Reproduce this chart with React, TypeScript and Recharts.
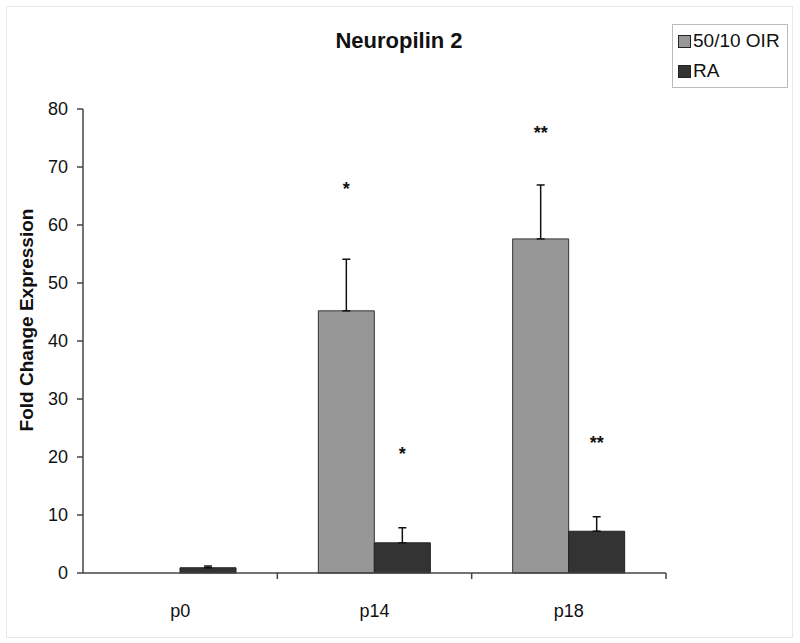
import React from 'react';
import {
	BarChart,
	Bar,
	XAxis,
	YAxis,
	ErrorBar,
	LabelList,
	Legend,
} from 'recharts';

const categories = ['p0', 'p14', 'p18'];
const oirValues = [0, 45.2, 57.6];
const oirErrors = [null, 8.9, 9.3];
const oirStars = ['', '*', '**'];
const oirStarLevels = [null, 66.4, 76];
const raValues = [0.9, 5.2, 7.2];
const raErrors = [0.3, 2.6, 2.5];
const raStars = ['', '*', '**'];
const raStarLevels = [null, 20.7, 22.6];
const yTicks = [0, 10, 20, 30, 40, 50, 60, 70, 80];

const data = categories.map((name, i) => ({
	name,
	oir: oirValues[i],
	oirErr: oirErrors[i] == null ? undefined : [0, oirErrors[i]],
	ra: raValues[i],
	raErr: [0, raErrors[i]],
}));

const W = 800;
const H = 643;
const X_AXIS_H = 30;
const Y_AXIS_W = 83;
const M = { top: 109, right: 134, bottom: 70 - X_AXIS_H, left: 0 };
const PLOT_BOTTOM = H - M.bottom - X_AXIS_H;
const BAND = (W - M.right - M.left - Y_AXIS_W) / categories.length;
const FONT = '"Liberation Sans", Arial, Helvetica, sans-serif';
const AXIS = '#444';

const XTick = (props: any) => {
	const { x, payload } = props;
	return (
		<g>
			<line
				x1={x + BAND / 2}
				x2={x + BAND / 2}
				y1={PLOT_BOTTOM}
				y2={PLOT_BOTTOM + 6}
				stroke={AXIS}
				strokeWidth={1.5}
			/>
			<text
				x={x}
				y={PLOT_BOTTOM + 44}
				textAnchor='middle'
				fontSize={18}
				fontFamily={FONT}
				fill='#111'
			>
				{payload.value}
			</text>
		</g>
	);
};

// star sits at a y value; bar height / bar value gives px per unit
const starLabel =
	(values: number[], stars: string[], levels: (number | null)[]) => (props: any) => {
		const { x, y, width, height, value } = props;
		const i = categories.indexOf(value);
		const level = levels[i];
		if (i < 0 || level == null || !stars[i] || !values[i]) return null;
		const base = y + height;
		const sy = base - (level * height) / values[i];
		return (
			<text
				x={x + width / 2}
				y={sy + 7}
				textAnchor='middle'
				fontSize={18}
				fontWeight='bold'
				fontFamily={FONT}
				fill='#111'
			>
				{stars[i]}
			</text>
		);
	};

const LegendBox = (props: any) => {
	const { payload } = props;
	return (
		<div
			style={{
				border: '1px solid #bbb',
				padding: '1px 4px 1px 5px',
				fontFamily: FONT,
				fontSize: 19,
				color: '#111',
				background: '#fff',
				whiteSpace: 'nowrap',
				width: 105,
			}}
		>
			{(payload || []).map((p: any) => (
				<div
					key={p.value}
					style={{ display: 'flex', alignItems: 'center', height: 30 }}
				>
					<span
						style={{
							display: 'inline-block',
							width: 11,
							height: 11,
							background: p.color,
							border: '1px solid #222',
							marginRight: 2,
						}}
					/>
					{p.value}
				</div>
			))}
		</div>
	);
};

const App = () => {
	return (
		<div
			style={{
				position: 'absolute',
				left: 0,
				top: 0,
				width: W,
				height: H,
				background: '#fff',
			}}
		>
			<div
				style={{
					position: 'absolute',
					left: 6,
					top: 6,
					width: 785,
					height: 630,
					border: '1px solid #e8e8e8',
				}}
			/>
			<div
				style={{
					position: 'absolute',
					left: 0,
					width: W - 2,
					top: 28,
					textAlign: 'center',
					fontFamily: FONT,
					fontWeight: 'bold',
					fontSize: 22,
					color: '#111',
				}}
			>
				Neuropilin 2
			</div>
			<BarChart
				width={W}
				height={H}
				data={data}
				margin={M}
				barSize={56}
				barGap={0}
			>
				<XAxis
					dataKey='name'
					height={X_AXIS_H}
					stroke={AXIS}
					strokeWidth={1.5}
					tickLine={false}
					tick={<XTick />}
					interval={0}
				/>
				<YAxis
					width={Y_AXIS_W}
					domain={[0, 80]}
					ticks={yTicks}
					stroke={AXIS}
					strokeWidth={1.5}
					tickSize={6}
					tickMargin={9}
					tick={{ fontSize: 18, fill: '#111', fontFamily: FONT }}
					label={(p: any) => {
						const vb = p.viewBox;
						const cx = vb.x + 26;
						const cy = vb.y + vb.height / 2 - 21;
						return (
							<text
								x={cx}
								y={cy}
								transform={`rotate(-90 ${cx} ${cy})`}
								textAnchor='middle'
								dominantBaseline='central'
								fontSize={19}
								fontWeight='bold'
								fontFamily={FONT}
								fill='#111'
							>
								Fold Change Expression
							</text>
						);
					}}
				/>
				<Legend
					layout='horizontal'
					verticalAlign='middle'
					align='center'
					content={<LegendBox />}
					wrapperStyle={{ position: 'absolute', left: 672, top: 24, width: 'auto' }}
				/>
				<Bar
					dataKey='oir'
					name='50/10 OIR'
					fill='#979797'
					stroke='#333'
					strokeWidth={1}
					isAnimationActive={false}
				>
					<ErrorBar dataKey='oirErr' width={4} stroke='#111' strokeWidth={1.5} />
					<LabelList dataKey='name' content={starLabel(oirValues, oirStars, oirStarLevels)} />
				</Bar>
				<Bar
					dataKey='ra'
					name='RA'
					fill='#333333'
					stroke='#222'
					strokeWidth={1}
					isAnimationActive={false}
				>
					<ErrorBar dataKey='raErr' width={4} stroke='#111' strokeWidth={1.5} />
					<LabelList dataKey='name' content={starLabel(raValues, raStars, raStarLevels)} />
				</Bar>
			</BarChart>
		</div>
	);
};

export default App;
